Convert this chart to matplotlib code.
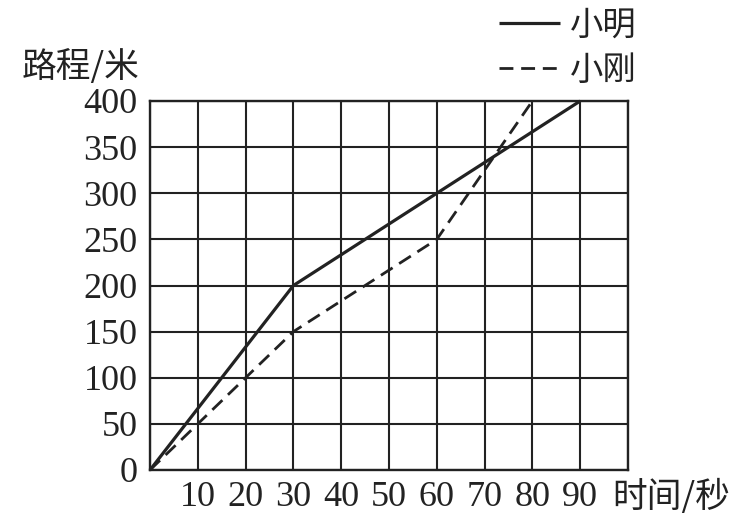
import matplotlib
matplotlib.use("Agg")
import matplotlib.pyplot as plt

# Data
time_ming = [0, 30, 60, 90]
dist_ming = [0, 200, 300, 400]
time_gang = [0, 30, 60, 80]
dist_gang = [0, 150, 250, 400]
x_ticks = [10, 20, 30, 40, 50, 60, 70, 80, 90]
y_ticks = [0, 50, 100, 150, 200, 250, 300, 350, 400]
series_names = ["小明", "小刚"]

W, H = 745, 518
fig = plt.figure(figsize=(W / 100, H / 100), dpi=100)
ax = fig.add_axes([150 / W, 1 - 470 / H, 478 / W, 369 / H])

ink = "#222222"
num_font = {"family": ["Liberation Serif", "DejaVu Serif"], "size": 26, "color": ink}
cjk = ["Noto Sans CJK SC", "DejaVu Sans"]

ax.set_xlim(0, 100)
ax.set_ylim(0, 400)
ax.set_xticks(x_ticks)
ax.set_yticks(y_ticks)
ax.set_xticks(range(0, 101, 10), minor=True)
ax.grid(True, which="both", axis="x", color=ink, linewidth=1.5)
ax.grid(True, axis="y", color=ink, linewidth=1.5)
ax.tick_params(axis="both", which="both", length=0)
ax.tick_params(axis="y", pad=9)
ax.tick_params(axis="x", pad=8)
ax.set_xticklabels([str(v) for v in x_ticks], fontdict=num_font)
ax.set_yticklabels([str(v) for v in y_ticks], fontdict=num_font)
for s in ax.spines.values():
    s.set_color(ink)
    s.set_linewidth(1.7)

l1, = ax.plot(time_ming, dist_ming, color=ink, linewidth=2.3, solid_capstyle="butt")
l2, = ax.plot(time_gang, dist_gang, color=ink, linewidth=2.0, linestyle=(0, (5.0, 2.8)))
for ln in (l1, l2):
    ln.set_clip_on(False)

leg = fig.legend([l1, l2], series_names, loc="upper left",
                 bbox_to_anchor=(482 / W, 1 + 9 / H), frameon=False,
                 prop={"family": cjk, "size": 24}, handlelength=1.85,
                 handletextpad=0.3, labelspacing=0.3, borderpad=0.0)
for t in leg.get_texts():
    t.set_color(ink)

fig.text(22 / W, 1 - 67 / H, "路程/米", family=cjk, size=25, color=ink,
         ha="left", va="center")
fig.text(612 / W, 1 - 497 / H, "时间/秒", family=cjk, size=25, color=ink,
         ha="left", va="center")

fig.savefig("out.png", dpi=100)
